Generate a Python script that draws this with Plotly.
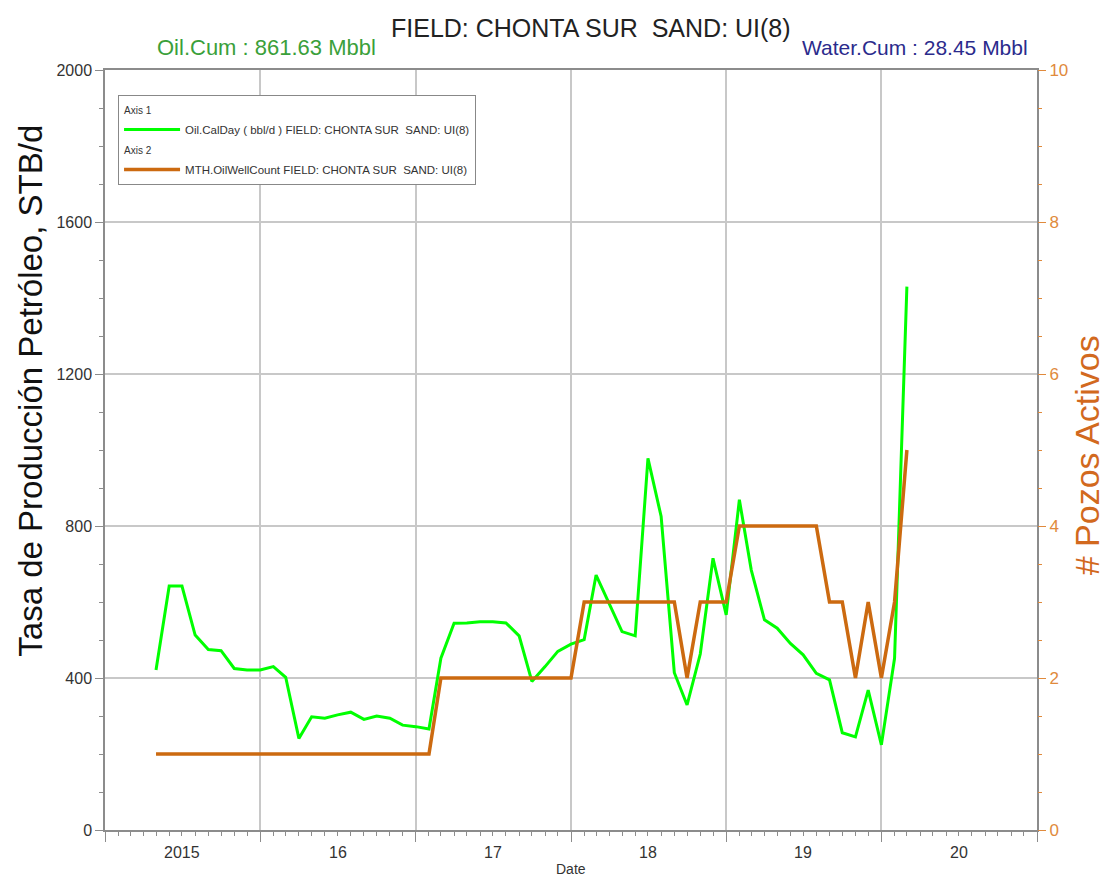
import pandas as pd
import plotly.graph_objects as go

# ---- data ----
months = pd.date_range("2015-05-01", periods=59, freq="MS")

oil_calday = [421, 642, 642, 513, 475, 472, 425, 421, 421, 430, 402, 241,
              298, 294, 303, 310, 291, 300, 294, 276, 272, 266, 452, 544,
              545, 548, 548, 545, 511, 391, 430, 470, 489, 501, 671, 597,
              522, 511, 978, 825, 414, 329, 463, 715, 566, 869, 684, 553,
              531, 491, 461, 412, 395, 256, 245, 368, 224, 452, 1430]

well_count = [1] * 22 + [2] * 11 + [3] * 8 + [2] + [3] * 3 + [4] * 7 + \
             [3, 3, 2, 3, 2, 3, 5]

year_label_dates = ["2015-07-01", "2016-07-01", "2017-07-01",
                    "2018-07-01", "2019-07-01", "2020-07-01"]
year_labels = ["2015", "16", "17", "18", "19", "20"]

GREEN = "#00FF00"
ORANGE = "#CC6A10"
ORANGE_TXT = "#E08A3C"
GRID = "#C8C8C8"
AXIS = "#8C8C8C"

fig = go.Figure()
fig.add_trace(go.Scatter(
    x=months, y=oil_calday, mode="lines",
    line=dict(color=GREEN, width=3),
    name="Oil.CalDay ( bbl/d ) FIELD: CHONTA SUR  SAND: UI(8)",
    legendgroup="a1", legendgrouptitle_text="Axis 1",
))
fig.add_trace(go.Scatter(
    x=months, y=well_count, mode="lines", yaxis="y2",
    line=dict(color=ORANGE, width=3.5),
    name="MTH.OilWellCount FIELD: CHONTA SUR  SAND: UI(8)",
    legendgroup="a2", legendgrouptitle_text="Axis 2",
))

font_main = "Liberation Sans, Arial, sans-serif"

fig.update_layout(
    width=1105, height=877,
    margin=dict(l=105, r=68, t=70, b=47),
    plot_bgcolor="white", paper_bgcolor="white",
    font=dict(family=font_main, color="#222"),
    showlegend=True,
    legend=dict(
        x=0.014, y=0.967, xanchor="left", yanchor="top",
        bgcolor="white", bordercolor="#888", borderwidth=1,
        font=dict(size=11.5, color="#333"),
        grouptitlefont=dict(size=10, color="#333"),
        traceorder="grouped", tracegroupgap=2, itemwidth=56,
    ),
    xaxis=dict(
        type="date", range=["2015-01-01", "2021-01-01"],
        tick0="2015-01-01", dtick="M12",
        showticklabels=False, ticks="outside", ticklen=10, tickcolor=AXIS,
        showgrid=True, gridcolor=GRID, gridwidth=1.5,
        showline=True, linecolor=AXIS, linewidth=1.5, mirror=True,
        minor=dict(dtick="M1", ticks="outside", ticklen=4, tickcolor=AXIS,
                   showgrid=False),
        zeroline=False,
    ),
    yaxis=dict(
        range=[0, 2000], dtick=400, tick0=0,
        ticks="outside", ticklen=8, tickcolor=AXIS,
        tickfont=dict(size=16, color="#333"),
        showgrid=True, gridcolor=GRID, gridwidth=1.5,
        showline=True, linecolor=AXIS, linewidth=1.5, mirror=True,
        minor=dict(dtick=100, ticks="outside", ticklen=4, tickcolor=AXIS,
                   showgrid=False),
        zeroline=False,
    ),
    yaxis2=dict(
        range=[0, 10], dtick=2, tick0=0, overlaying="y", side="right",
        ticks="outside", ticklen=8, tickcolor=ORANGE_TXT,
        tickfont=dict(size=17, color=ORANGE_TXT),
        showgrid=False, showline=False, zeroline=False,
        minor=dict(dtick=0.5, ticks="outside", ticklen=4,
                   tickcolor=ORANGE_TXT, showgrid=False),
    ),
)

annotations = []
for d, t in zip(year_label_dates, year_labels):
    annotations.append(dict(x=d, y=0, xref="x", yref="paper", text=t,
                            showarrow=False, yanchor="top", yshift=-12,
                            font=dict(size=16, color="#333")))
annotations += [
    dict(x=0.5, y=0, xref="paper", yref="paper", text="Date",
         showarrow=False, yanchor="top", yshift=-29,
         font=dict(size=14, color="#333")),
    dict(x=0.521, y=1.055, xref="paper", yref="paper",
         xanchor="center", yanchor="middle",
         text="FIELD: CHONTA SUR  SAND: UI(8)", showarrow=False,
         font=dict(size=25, color="#222")),
    dict(x=0.054, y=1.030, xref="paper", yref="paper",
         xanchor="left", yanchor="middle",
         text="Oil.Cum : 861.63 Mbbl", showarrow=False,
         font=dict(size=22, color="#3AA03A")),
    dict(x=0.9925, y=1.030, xref="paper", yref="paper",
         xanchor="right", yanchor="middle",
         text="Water.Cum : 28.45 Mbbl", showarrow=False,
         font=dict(size=21, color="#2B2B8C")),
    dict(x=-0.0794, y=0.578, xref="paper", yref="paper", textangle=-90,
         xanchor="center", yanchor="middle",
         text="Tasa de Producción Petróleo, STB/d", showarrow=False,
         font=dict(size=33, color="#111")),
    dict(x=1.0536, y=0.493, xref="paper", yref="paper", textangle=-90,
         xanchor="center", yanchor="middle",
         text="# Pozos Activos", showarrow=False,
         font=dict(size=34, color="#D2691E")),
]
fig.update_layout(annotations=annotations)

fig.write_html("out.html",
               config={"displayModeBar": False},
               post_script="document.body.style.margin='0';"
                           "document.body.style.padding='0';")
